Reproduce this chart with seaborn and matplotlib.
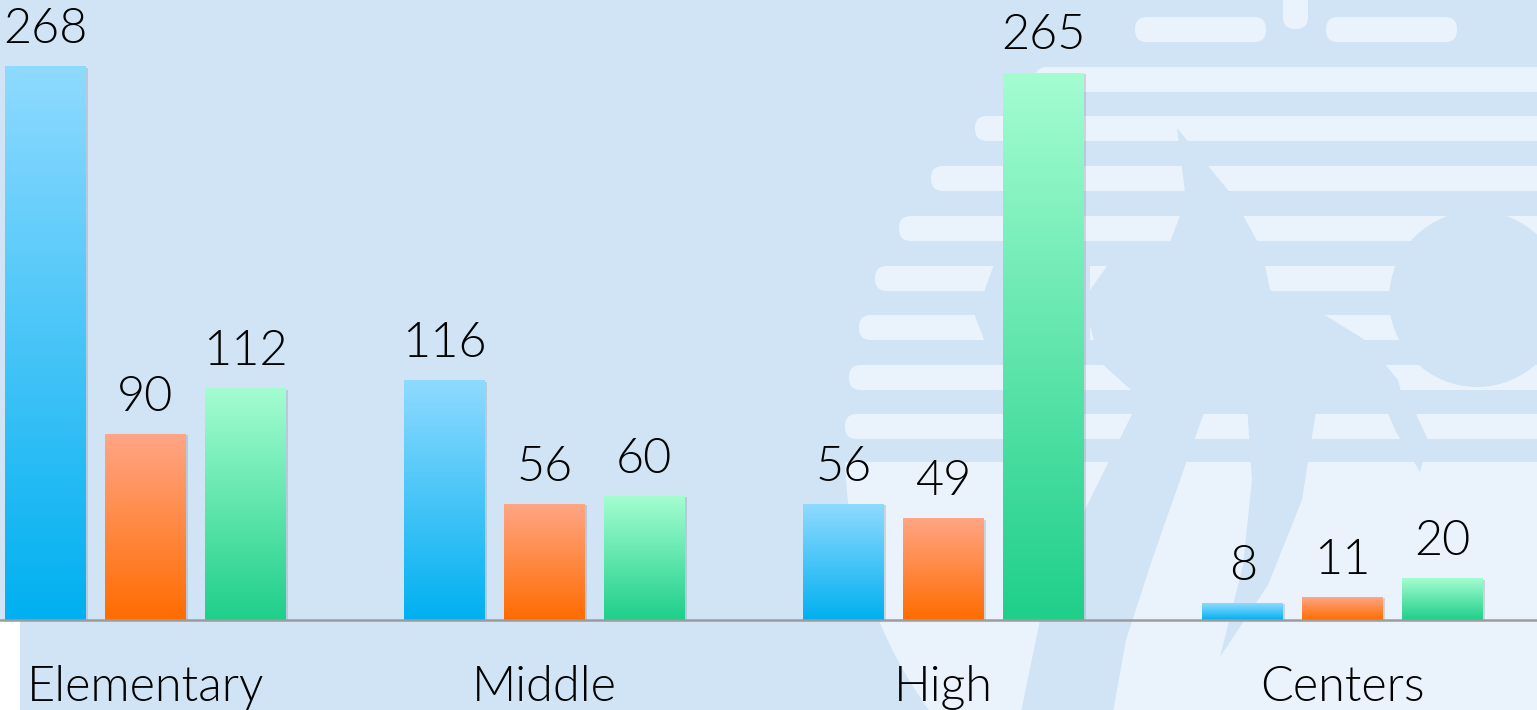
import numpy as np
import pandas as pd
import matplotlib
matplotlib.use("Agg")
import matplotlib.pyplot as plt
import seaborn as sns
from matplotlib.colors import LinearSegmentedColormap
from matplotlib.patches import FancyBboxPatch, Rectangle, Circle, Polygon
from matplotlib import transforms

# ---- data ----
categories = ["Elementary", "Middle", "High", "Centers"]
series_names = ["Series 1", "Series 2", "Series 3"]
series_1 = [268, 116, 56, 8]
series_2 = [90, 56, 49, 11]
series_3 = [112, 60, 265, 20]

# gradient colours per series: (top, bottom)
grad_colors = [("#8fdaff", "#00b0f0"),
               ("#ffa585", "#ff6c00"),
               ("#a4fdd1", "#1fcf8a")]

BG = "#d0e4f5"
LIGHT = "#eaf3fb"

df = pd.DataFrame({
    "category": np.repeat(categories, 3),
    "series": series_names * len(categories),
    "value": np.ravel(np.column_stack([series_1, series_2, series_3])),
})

sns.set_theme(style="white")
plt.rcParams["font.family"] = ["Lato", "DejaVu Sans"]
TEXT_WEIGHT = 300

W, H = 1537, 710
fig = plt.figure(figsize=(W / 100, H / 100), dpi=100, facecolor=BG)

# ---- decorative sun / palm watermark, drawn in pixel space ----
bg_ax = fig.add_axes([0, 0, 1, 1], zorder=0)
bg_ax.set_xlim(0, W)
bg_ax.set_ylim(H, 0)
bg_ax.axis("off")
bg_ax.set_facecolor(BG)

def stripe(x0, x1, y0, y1):
    bg_ax.add_patch(FancyBboxPatch((x0, y0), x1 - x0, y1 - y0,
                                   boxstyle="round,pad=0,rounding_size=12",
                                   fc=LIGHT, ec="none"))

stripe(1135, 1266, 17, 42)
stripe(1326, 1457, 17, 42)
stripe(1283, 1308, -30, 29)
for (y0, x0) in [(67, 1035), (116, 975), (166, 931), (216, 899), (266, 875),
                 (315, 859), (365, 849), (414, 845)]:
    stripe(x0, W + 40, y0, y0 + 25)

# lower disc segment
cx, cy, r = 1290, 450, 445
ys = np.linspace(462, H, 60)
xs = cx - np.sqrt(r ** 2 - (ys - cy) ** 2)
lower = np.vstack([np.column_stack([xs, ys]), [[W, H], [W, 462]]])
bg_ax.add_patch(Polygon(lower, closed=True, fc=LIGHT, ec="none"))

# palm silhouette and sun in background colour
bg_ax.add_patch(Circle((1477, 299), 88, fc=BG, ec="none"))
fronds = [
    [(1177, 128), (1232, 195), (1262, 250), (1270, 290), (1320, 312),
     (1365, 340), (1398, 380), (1402, 395), (1320, 405), (1205, 412),
     (1140, 398), (1100, 362), (1083, 300), (1110, 262), (1170, 242),
     (1186, 200)],
    [(1247, 405), (1317, 405), (1302, 500), (1268, 585), (1220, 657),
     (1243, 565), (1252, 480)],
    [(1380, 395), (1405, 390), (1428, 440), (1420, 472), (1396, 432)],
    [(1140, 398), (1205, 410), (1186, 463), (1152, 560), (1126, 640),
     (1113, 712), (1021, 712), (1040, 620), (1075, 530), (1108, 463)],
    [(995, 262), (1090, 250), (1090, 340), (985, 342), (975, 316)],
]
for pts in fronds:
    bg_ax.add_patch(Polygon(pts, closed=True, fc=BG, ec="none"))

# white margin at lower left
bg_ax.add_patch(Rectangle((0, 621), 20, H - 621, fc="white", ec="none"))

# ---- bar chart ----
axis_y = 620
ax = fig.add_axes([0, (H - axis_y) / H, 1, axis_y / H], zorder=1)
ax.patch.set_alpha(0)

sns.barplot(data=df, x="category", y="value", hue="series",
            order=categories, hue_order=series_names,
            width=0.75, gap=0.19, palette=[c[1] for c in grad_colors],
            legend=False, ax=ax, err_kws={"linewidth": 0})

xlim = (-145.5 / 399, (W - 145.5) / 399)
ylim = (0, axis_y / 2.064)

shadow_tr = transforms.offset_copy(ax.transData, fig=fig, x=2, y=-1, units="dots")
bars = [p for p in ax.patches if isinstance(p, Rectangle)]
for i, bar in enumerate(bars):
    s_idx = i // len(categories)
    top_c, bot_c = grad_colors[s_idx]
    cmap = LinearSegmentedColormap.from_list("g", [bot_c, top_c])
    x0, w, h = bar.get_x(), bar.get_width(), bar.get_height()
    ax.add_patch(Rectangle((x0, 0), w, h, transform=shadow_tr,
                           fc="#7f8fa0", alpha=0.3, ec="none", zorder=1.5))
    grad = np.linspace(0, 1, 256).reshape(-1, 1)
    ax.imshow(grad, extent=[x0, x0 + w, 0, h], origin="lower",
              aspect="auto", cmap=cmap, zorder=2, interpolation="bilinear")
    bar.set_visible(False)
    ax.annotate(f"{h:g}", (x0 + w / 2, h), xytext=(0, 17), textcoords="offset points",
                ha="center", va="baseline", fontsize=35, color="black",
                fontweight=TEXT_WEIGHT)

ax.set_xlim(*xlim)
ax.set_ylim(*ylim)
ax.axhline(0, color="#9c9c9c", lw=1.8, zorder=3, clip_on=False)

ax.set_xlabel("")
ax.set_ylabel("")
ax.set_yticks([])
ax.set_xticks(range(len(categories)))
ax.set_xticklabels(categories, fontsize=35, color="black", fontweight=TEXT_WEIGHT)
ax.tick_params(axis="x", length=0, pad=58)
for lbl in ax.get_xticklabels():
    lbl.set_verticalalignment("baseline")
sns.despine(ax=ax, left=True, bottom=True)

fig.savefig("out.png", dpi=100, facecolor=BG)
